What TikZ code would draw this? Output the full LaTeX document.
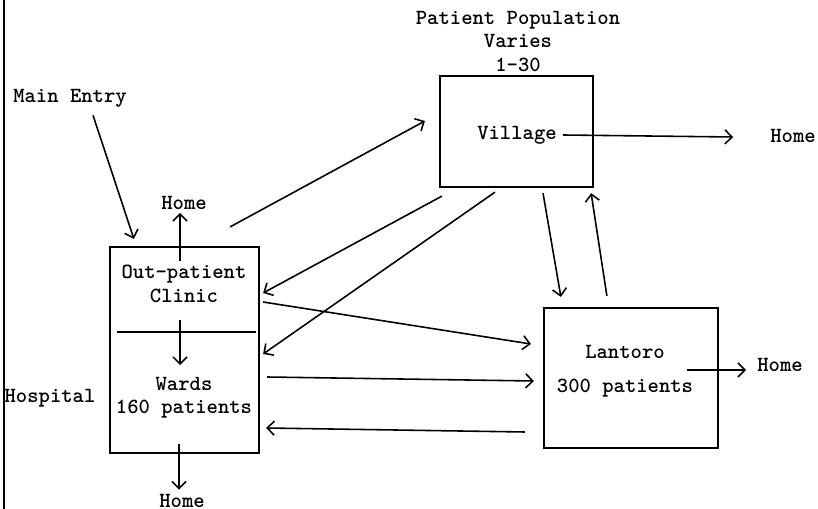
\documentclass[tikz,border=0pt]{standalone}
\usepackage{fontspec}
\usepackage{tikz}
\usetikzlibrary{calc,positioning,arrows.meta}

\begin{document}
\begin{tikzpicture}[x=0.02cm, y=-0.02cm,
    lbl/.style={font=\ttfamily\bfseries\fontsize{12.3}{13.3}\selectfont, align=center},
    box/.style={draw, line width=1.3pt, inner sep=0pt},
    flow/.style={line width=0.9pt, -{Straight Barb[length=4pt, width=8pt]}}]
  \useasboundingbox (0,0) rectangle (818,509);
  % scan edge
  \draw[line width=1pt] (4,0) -- (4,509);
  % Hospital
  \node[box, minimum width=2.98cm, minimum height=4.12cm] (hosp) at (184.5,350) {};
  \draw[line width=1pt] ($(hosp.west)+(8,-18)$) -- ($(hosp.east)+(-4,-18)$);
  \node[lbl] (clinic) at (184,284) {Out-patient\\Clinic};
  \node[lbl] (wards) at (184,398) {Wards\\160 patients};
  \node[lbl] (hosplbl) at (50,398) {Hospital};
  \node[lbl] (entry) at (70,98) {Main Entry};
  \node[lbl] (homeA) at (184,203) {Home};
  \node[lbl] (homeC) at (182,500.5) {Home};
  % Village
  \node[box, minimum width=3.06cm, minimum height=2.22cm] (vil) at (516.5,131.5) {};
  \node[lbl] (vlbl) at (517,135) {Village};
  \node[lbl] (pop) at (518,41.5) {Patient Population\\Varies\\1-30};
  \node[lbl] (homeB) at (793,136) {Home};
  % Lantoro
  \node[box, minimum width=3.48cm, minimum height=2.8cm] (lan) at (631,378) {};
  \node[lbl] (lanlbl) at (625,371.5) {Lantoro\\[6pt]300 patients};
  \node[lbl] (homeD) at (780,365) {Home};
  % flows
  \draw[flow] ($(entry.south)+(23,2)$) -- ($(hosp.north west)+(25,-7)$);
  \draw[flow] ($(hosp.north)+(-4.5,15)$) -- ($(homeA.south)+(-4,-3)$);
  \draw[flow] ($(hosp.center)+(-4.5,-30)$) -- ($(hosp.center)+(-4.5,15)$);
  \draw[flow] ($(hosp.south)+(-5.5,-10)$) -- ($(homeC.north)+(-3,2)$);
  \draw[flow] ($(hosp.north east)+(-30,-19)$) -- ($(vil.west)+(-14,-10.5)$);
  \draw[flow] ($(vil.south west)+(3,8)$) -- ($(hosp.east)+(3,-57)$);
  \draw[flow] ($(vil.south)+(-21.5,4)$) -- ($(hosp.east)+(3,4)$);
  \draw[flow] ($(hosp.east)+(3,-48)$) -- ($(lan.west)+(-12,-34)$);
  \draw[flow] ($(hosp.east)+(7,27)$) -- ($(lan.west)+(-9,3)$);
  \draw[flow] ($(lan.west)+(-18,54)$) -- ($(hosp.east)+(6,78)$);
  \draw[flow] ($(vil.south)+(26.5,5)$) -- ($(lan.north west)+(18,-10)$);
  \draw[flow] ($(lan.north west)+(64,-11)$) -- ($(vil.south east)+(-3,5)$);
  \draw[flow] (vlbl.east) -- ($(homeB.west)+(-31,1)$);
  \draw[flow] ($(lan.center)+(56,-8)$) -- ($(homeD.west)+(-5,5)$);
\end{tikzpicture}
\end{document}
